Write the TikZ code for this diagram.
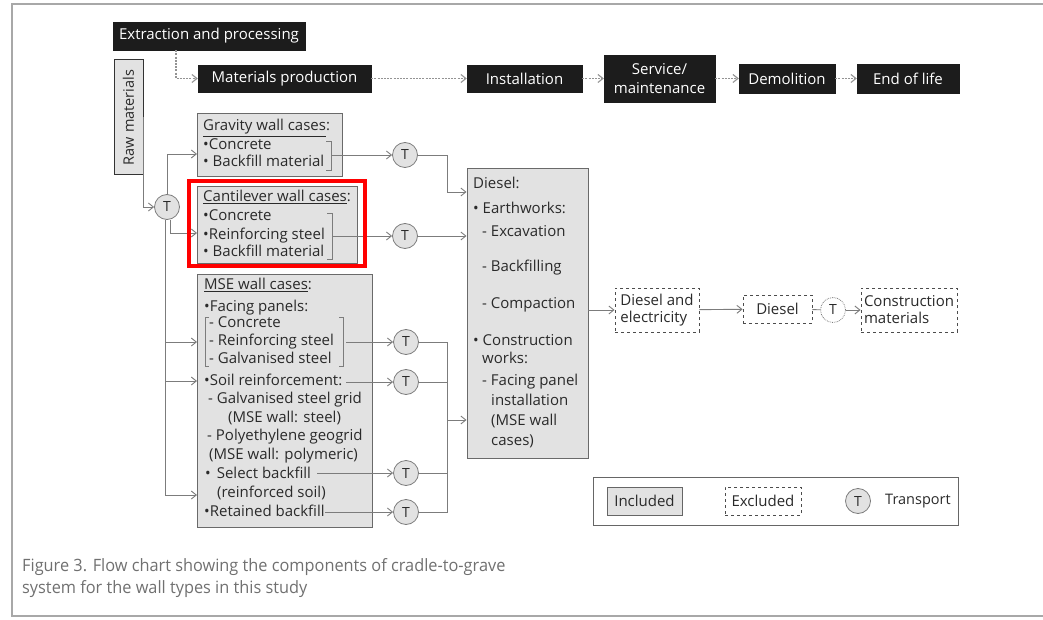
\documentclass[tikz,border=0pt]{standalone}
\usepackage{fontspec}
\setmainfont{Open Sans}
\newfontfamily\capfont[FakeStretch=0.96]{Open Sans}
\usetikzlibrary{arrows.meta}
\definecolor{boxgray}{HTML}{E2E2E2}
\definecolor{edgegray}{HTML}{6A6A6A}
\definecolor{linegray}{HTML}{7C7C7C}
\definecolor{capgray}{HTML}{707070}
\definecolor{framegray}{HTML}{A8A8A8}
\definecolor{darkbox}{HTML}{1C1C1C}
\definecolor{txtgray}{HTML}{2A2A2A}
\tikzset{
 txt/.style={font=\fontsize{15}{17}\selectfont, inner sep=0pt, anchor=west, text=txtgray, text height=10.5pt, text depth=3pt},
 blackbox/.style={fill=darkbox, draw=darkbox, text=white, font=\fontsize{15}{19}\selectfont, align=center, inner sep=0pt},
 graybox/.style={fill=boxgray, draw=edgegray, line width=0.9pt, inner sep=0pt},
 rawbox/.style={fill=boxgray, draw=black!80, line width=1pt, inner sep=0pt, text=txtgray, font=\fontsize{14.5}{16}\selectfont},
 tcirc/.style={circle, fill=boxgray, draw=linegray, line width=0.8pt, minimum size=25pt, inner sep=0pt, text=txtgray, font=\fontsize{14}{15}\selectfont},
 tdash/.style={tcirc, fill=white, densely dotted},
 conn/.style={draw=linegray, line width=0.9pt},
 arr/.style={conn, -{Straight Barb[length=5pt,width=8pt]}},
 dotarr/.style={draw=gray!85, line width=1.6pt, dash pattern=on 2pt off 1.2pt, -{Straight Barb[length=5pt,width=8pt,line width=1.1pt]}},
 exbox/.style={draw=black!70, dashed, line width=0.9pt, fill=white, inner sep=0pt, text=txtgray, font=\fontsize{15}{17}\selectfont, align=left},
 brk/.style={draw=linegray, line width=0.9pt},
 captext/.style={font=\capfont\fontsize{17}{19}\selectfont, text=capgray, inner sep=0pt, anchor=west, text height=12pt, text depth=3.5pt},
}
\begin{document}
\begin{tikzpicture}[x=1pt,y=-1pt]
\useasboundingbox (0,0) rectangle (1043,620);
% page frame
\draw[framegray, line width=1.5pt] (1043,4) -- (12,4) -- (12,616) -- (1043,616);

% top process chain
\node[blackbox, minimum width=192pt, minimum height=28pt] (ext) at (209,36) {Extraction and processing};
\node[blackbox, minimum width=173pt, minimum height=27pt] (mp) at (284.5,78.5) {Materials production};
\node[blackbox, minimum width=115pt, minimum height=27pt] (inst) at (524.5,78.5) {Installation};
\node[blackbox, minimum width=111pt, minimum height=47pt] (serv) at (659.5,78.5) {Service/\\maintenance};
\node[blackbox, minimum width=96pt, minimum height=29pt] (demo) at (787,78.5) {Demolition};
\node[blackbox, minimum width=102pt, minimum height=29pt] (eol) at (908,78.5) {End of life};
\draw[dotarr] ([xshift=-33pt]ext.south) |- (mp.west);
\draw[dotarr] (mp) -- (inst);
\draw[dotarr] (inst) -- (serv);
\draw[dotarr] (serv) -- (demo);
\draw[dotarr] (demo) -- (eol);

% raw materials
\node[rawbox, rotate=90, minimum width=115pt, minimum height=29pt] (raw) at (128.5,117.5) {Raw materials};
\node[tcirc] (t0) at (167,207) {T};
\draw[arr] (raw.south) |- (t0.west);

% gravity
\node[graybox, minimum width=145pt, minimum height=63pt] (grav) at (269.5,144.5) {};
\node[txt] (g0) at (203,127) {\underline{Gravity wall cases}:};
\node[txt] (g1) at (203,146) {•Concrete};
\node[txt] (g2) at (203,163) {• Backfill material};
\draw[brk] (326,141) -- (331,141) -- (331,170) -- (326,170);
\coordinate (gb) at (331,155);
\coordinate (gin) at (197,154);
\node[tcirc] (t1) at (405,155) {T};
\draw[arr] (gb) -- (t1.west);
\draw[arr] (t0.north) |- (gin);

% cantilever
\node[graybox, minimum width=160pt, minimum height=77pt] (cant) at (277,224.5) {};
\node[txt] (c0) at (203,198) {\underline{Cantilever wall cases}:};
\node[txt] (c1) at (203,217) {•Concrete};
\node[txt] (c2) at (203,236) {•Reinforcing steel};
\node[txt] (c3) at (203,253) {• Backfill material};
\draw[brk] (327,213) -- (332,213) -- (332,259) -- (327,259);
\coordinate (cb) at (332,236);
\coordinate (cin) at (197,233);
\node[tcirc] (t2) at (405,236) {T};
\draw[arr] (cb) -- (t2.west);
\draw[arr] ([xshift=3pt]t0.south) |- (cin);

% MSE
\node[graybox, minimum width=175pt, minimum height=253pt] (mse) at (284.5,400.5) {};
\node[txt] (m0) at (204,286) {\underline{MSE wall cases}:};
\node[txt] (m1) at (204,308) {•Facing panels:};
\node[txt] (m2) at (209,324) {- Concrete};
\node[txt] (m3) at (209,342) {- Reinforcing steel};
\node[txt] (m4) at (209,360) {- Galvanised steel};
\node[txt] (m5) at (204,382) {•Soil reinforcement:};
\node[txt] (m6) at (208,400) {- Galvanised steel grid};
\node[txt] (m7) at (228,419) {(MSE wall: steel)};
\node[txt] (m8) at (207,437) {- Polyethylene geogrid};
\node[txt] (m9) at (209,456) {(MSE wall: polymeric)};
\node[txt] (m10) at (205,475) {•\hspace{6pt}Select backfill};
\node[txt] (m11) at (217,494) {(reinforced soil)};
\node[txt] (m12) at (204,513) {•Retained backfill};
\draw[brk] (209,317) -- (205,317) -- (205,366) -- (209,366);
\draw[brk] (339,317) -- (343,317) -- (343,366) -- (339,366);
\coordinate (fb) at (346,342);
\node[tcirc] (t3) at (406,342) {T};
\node[tcirc] (t4) at (406,382) {T};
\node[tcirc] (t5) at (406,473) {T};
\node[tcirc] (t6) at (406,512) {T};
\draw[arr] (fb) -- (t3.west);
\draw[arr] ([xshift=4pt]m5.east) -- (t4.west);
\draw[arr] ([xshift=6pt]m10.east |- t5) -- (t5.west);
\draw[arr] (m12.east |- t6) -- (t6.west);
\coordinate (vb) at (165,495);
\coordinate (m1in) at (197,342);
\coordinate (m2in) at (197,381);
\coordinate (m3in) at (197,495);
\draw[arr] ([xshift=-2pt]t0.south) |- (m3in);
\draw[arr] (m1in -| vb) -- (m1in);
\draw[arr] (m2in -| vb) -- (m2in);

% diesel box
\node[graybox, minimum width=121pt, minimum height=290pt] (dies) at (527.5,313) {};
\node[txt] (d0) at (473,185) {Diesel:};
\node[txt] (d1) at (473,210) {• Earthworks:};
\node[txt] (d2) at (482,233) {- Excavation};
\node[txt] (d3) at (482,268) {- Backfilling};
\node[txt] (d4) at (482,305) {- Compaction};
\node[txt] (d5) at (473,342) {• Construction};
\node[txt] (d6) at (482,360) {works:};
\node[txt] (d7) at (482,382) {- Facing panel};
\node[txt] (d8) at (491,402) {installation};
\node[txt] (d9) at (491,422) {(MSE wall};
\node[txt] (d10) at (491,442) {cases)};

% transport to diesel
\draw[arr] (t1.east) -| ([xshift=-19pt]dies.west |- 0,192) -- (dies.west |- 0,192);
\draw[arr] (t2.east) -- (t2 -| dies.west);
\coordinate (mj) at (447,420);
\draw[conn] (t3.east) -| (mj);
\draw[conn] (t6.east) -| (mj);
\draw[conn] (t4.east) -- (t4 -| mj);
\draw[conn] (t5.east) -- (t5 -| mj);
\draw[arr] (mj) -- (mj -| dies.west);

% excluded chain
\node[exbox, minimum width=84pt, minimum height=44pt] (de) at (657,310) {Diesel and\\electricity};
\node[exbox, minimum width=69pt, minimum height=28pt] (dd) at (777.5,309) {Diesel};
\node[tdash] (tx) at (833,310) {T};
\node[exbox, minimum width=96pt, minimum height=44pt] (cm) at (909,310) {Construction\\materials};
\draw[arr] (de -| dies.east) -- (de.west);
\draw[arr] (de) -- (dd);
\draw[conn] (dd) -- (tx);
\draw[arr] (tx) -- (cm);

% legend
\node[draw=black!60, line width=1pt, minimum width=365pt, minimum height=48pt, inner sep=0pt] (leg) at (775.5,501) {};
\node[graybox, draw=black!60, minimum width=75pt, minimum height=28pt, text=txtgray, font=\fontsize{15}{17}\selectfont] (inc) at (644.5,501) {Included};
\node[exbox, minimum width=76pt, minimum height=28pt] (exc) at (763,501) {Excluded};
\node[tcirc] (lt) at (858,501) {T};
\node[txt, font=\fontsize{14.5}{17}\selectfont] (ltx) at (885,501) {Transport};

% highlight
\node[draw=red, line width=4pt, minimum width=176pt, minimum height=85pt, inner sep=0pt] (hl) at (277,223.5) {};

% caption
\node[captext] (cap1) at (22,567) {Figure 3. Flow chart showing the components of cradle-to-grave};
\node[captext] (cap2) at (22,589) {system for the wall types in this study};
\end{tikzpicture}
\end{document}
